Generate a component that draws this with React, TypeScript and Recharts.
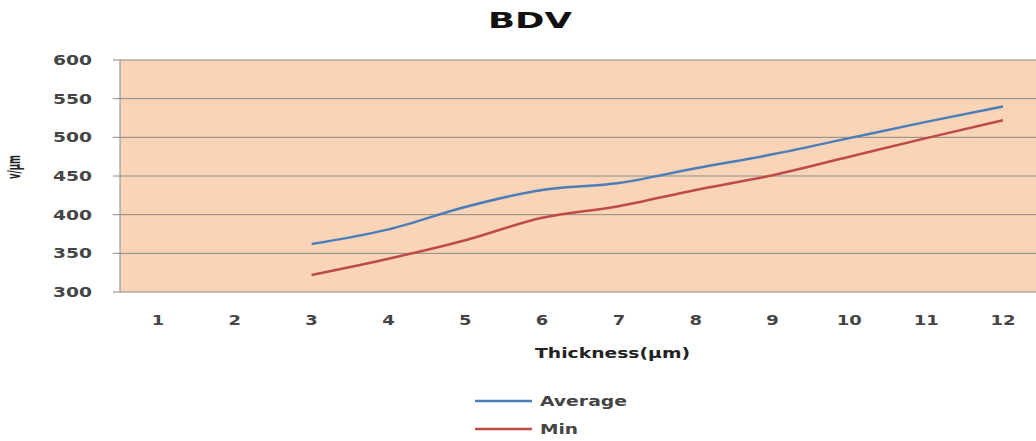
import { LineChart, Line, XAxis, YAxis, CartesianGrid, Legend } from "recharts";

// BDV vs thickness
const categories = ["1", "2", "3", "4", "5", "6", "7", "8", "9", "10", "11", "12"];
const averageValues = [null, null, 362, 381, 410, 432, 441, 460, 478, 499, 520, 540];
const minValues = [null, null, 322, 343, 367, 396, 411, 432, 451, 475, 499, 522];
const yTicks = [300, 350, 400, 450, 500, 550, 600];

const data = categories.map((c, i) => ({
  thickness: c,
  Average: averageValues[i],
  Min: minValues[i],
}));

const FONT = "'DejaVu Sans', Verdana, sans-serif";
const TEXT = "#454545";
const DIGIT_W = 12.5;

const XTick = ({ x, y, payload }: any) => (
  <text
    x={x}
    y={y + 33}
    textAnchor="middle"
    fontFamily={FONT}
    fontSize={13.5}
    fontWeight="bold"
    fill={TEXT}
    textLength={String(payload.value).length * DIGIT_W}
    lengthAdjust="spacingAndGlyphs"
  >
    {payload.value}
  </text>
);

const YTick = ({ x, y, payload }: any) => (
  <text
    x={x}
    y={y + 5}
    textAnchor="end"
    fontFamily={FONT}
    fontSize={13.5}
    fontWeight="bold"
    fill={TEXT}
    textLength={String(payload.value).length * 13}
    lengthAdjust="spacingAndGlyphs"
  >
    {payload.value}
  </text>
);

const XLabel = ({ viewBox }: any) => (
  <text
    x={viewBox.x + viewBox.width / 2 + 32}
    y={viewBox.y + 66}
    textAnchor="middle"
    fontFamily={FONT}
    fontSize={14}
    fontWeight="bold"
    fill="#222"
    textLength={155}
    lengthAdjust="spacingAndGlyphs"
  >
    Thickness(μm)
  </text>
);

const CustomLegend = ({ payload }: any) => (
  <svg width={200} height={56}>
    {payload.map((entry: any, i: number) => (
      <g key={i}>
        <line x1={5} x2={62} y1={13 + i * 28} y2={13 + i * 28} stroke={entry.color} strokeWidth={2.5} />
        <text
          x={70}
          y={18 + i * 28}
          fontFamily={FONT}
          fontSize={14}
          fontWeight="bold"
          fill={TEXT}
          textLength={entry.value === "Average" ? 87 : 38}
          lengthAdjust="spacingAndGlyphs"
        >
          {entry.value}
        </text>
      </g>
    ))}
  </svg>
);

export default function App() {
  return (
    <div style={{ position: "absolute", left: 0, top: 0, width: 1044, height: 441, background: "#fff" }}>
      <LineChart width={1044} height={441} data={data} margin={{ top: 60, right: 3, bottom: 0, left: 0 }}>
        <CartesianGrid vertical={false} stroke="#8a8a8a" fill="#F9D4B6" fillOpacity={1} />
        <XAxis
          dataKey="thickness"
          height={149}
          axisLine={false}
          tickLine={false}
          tickSize={0}
          tickMargin={0}
          padding={{ left: 38, right: 38 }}
          tick={<XTick />}
          label={<XLabel />}
        />
        <YAxis
          width={120}
          domain={[300, 600]}
          ticks={yTicks}
          axisLine={{ stroke: "#8a8a8a" }}
          tickLine={{ stroke: "#8a8a8a" }}
          tickSize={7}
          tickMargin={21}
          tick={<YTick />}
        />
        <Legend
          layout="vertical"
          align="center"
          verticalAlign="middle"
          wrapperStyle={{ left: 470, top: 388, width: 200 }}
          content={<CustomLegend />}
        />
        <Line type="monotone" dataKey="Average" stroke="#4A7EBB" strokeWidth={2.5} dot={false} isAnimationActive={false} />
        <Line type="monotone" dataKey="Min" stroke="#BE4B48" strokeWidth={2.5} dot={false} isAnimationActive={false} />
      </LineChart>
      <svg width={1044} height={441} style={{ position: "absolute", left: 0, top: 0, pointerEvents: "none" }}>
        <text
          x={530}
          y={28}
          textAnchor="middle"
          fontFamily={FONT}
          fontSize={22}
          fontWeight="bold"
          fill="#111"
          textLength={84}
          lengthAdjust="spacingAndGlyphs"
        >
          BDV
        </text>
        <text
          transform="translate(20 167) rotate(-90)"
          textAnchor="middle"
          fontFamily={FONT}
          fontSize={18}
          fontWeight="bold"
          fill="#222"
          textLength={24}
          lengthAdjust="spacingAndGlyphs"
        >
          v/μm
        </text>
      </svg>
    </div>
  );
}
